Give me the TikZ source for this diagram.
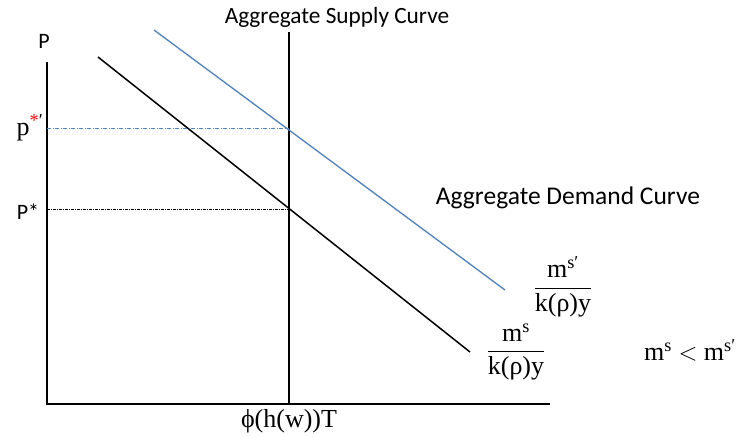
\documentclass[tikz,border=0pt]{standalone}
\usepackage{fontspec}
\usepackage{amsmath}
\setmainfont{Liberation Serif}
\newfontfamily\lab{Carlito}
\definecolor{ablue}{RGB}{79,129,189}
\begin{document}
\begin{tikzpicture}[x=1pt,y=-1pt,
  axis/.style={line width=1.6pt},
  lbl/.style={font=\lab\fontsize{22}{26}\selectfont, inner sep=1pt},
  mth/.style={font=\fontsize{26}{30}\selectfont, inner sep=1pt}]
\useasboundingbox[fill=white] (0,0) rectangle (752,437);
% axes
\coordinate (O) at (47,404);
\coordinate (Ytop) at (47,62);
\coordinate (Xend) at (550,404);
\draw[axis] (Ytop) -- (O) -- (Xend);
% supply
\coordinate (Stop) at (289,32);
\coordinate (Sbot) at (289,404);
\draw[axis] (Stop) -- (Sbot);
% demand curves
\coordinate (D1a) at (98,57);
\coordinate (D1b) at (470,352);
\draw[line width=1.5pt] (D1a) -- (D1b);
\coordinate (D2a) at (154,30);
\coordinate (D2b) at (505,290);
\draw[ablue, line width=1.3pt] (D2a) -- (D2b);
% guide lines
\coordinate (G1a) at (47,128);
\coordinate (G1b) at (289,128);
\draw[ablue, line width=0.9pt, dash pattern=on 4pt off 1.5pt on 1pt off 1.5pt] (G1a) -- (G1b);
\coordinate (G2a) at (47,209);
\coordinate (G2b) at (289,209);
\draw[black, line width=0.8pt, dash pattern=on 3pt off 1pt on 1pt off 1pt] (G2a) -- (G2b);
% labels
\node[lbl] (lP) at (44,41) {P};
\node[mth] (lp2) at (30,128) {p\textsuperscript{\textcolor{red}{*}′}};
\node[lbl] (lp1) at (28,212) {P*};
\node[lbl, font=\lab\fontsize{23.3}{26}\selectfont] (lAS) at (337,17) {Aggregate Supply Curve};
\node[lbl, font=\lab\fontsize{25.5}{28}\selectfont] (lAD) at (568,198) {Aggregate Demand Curve};
\node[mth, fill=white, inner xsep=4pt] (lX) at (289,421) {ϕ(h(w))T};
\node[mth] (f2) at (563,287) {$\dfrac{\text{m\textsuperscript{s′}}}{\text{k(ρ)y}}$};
\node[mth] (f1) at (516,352) {$\dfrac{\text{m\textsuperscript{s}}}{\text{k(ρ)y}}$};
\node[mth] (ineq) at (690,350) {m\textsuperscript{s} $<$ m\textsuperscript{s′}};
\end{tikzpicture}
\end{document}
